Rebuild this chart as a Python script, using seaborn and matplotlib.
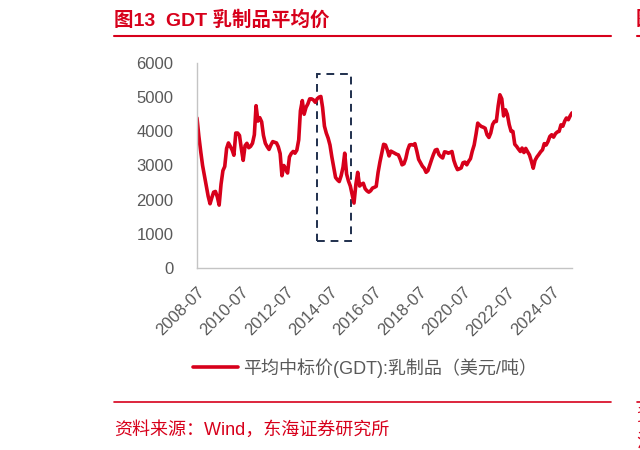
import pandas as pd
import seaborn as sns
import matplotlib.pyplot as plt
import matplotlib.dates as mdates
from matplotlib.patches import Rectangle

# GDT average winning price, dairy products (USD/t), monthly from 2008-07
start_month = '2008-07-01'
price = [
    4390, 3850, 3400, 3000, 2700, 2400, 2100, 1880, 2050, 2220, 2240, 2080,
    1840, 2450, 2850, 2970, 3500, 3660, 3560, 3450, 3300, 3950, 3950, 3880,
    3500, 3150, 3580, 3650, 3520, 3560, 3650, 3900, 4750, 4300, 4400, 4280,
    3880, 3650, 3550, 3470, 3600, 3700, 3680, 3660, 3550, 3350, 2700, 3000,
    2900, 2780, 3250, 3350, 3410, 3360, 3450, 3750, 4600, 4900, 4500, 4700,
    4800, 4950, 4950, 4920, 4850, 4950, 5000, 5020, 4700, 4150, 3950, 3800,
    3600, 3250, 2950, 2650, 2580, 2530, 2700, 2950, 3360, 2750, 2550, 2400,
    2150, 1900, 2450, 2800, 2400, 2450, 2480, 2320, 2260, 2220, 2260, 2340,
    2360, 2390, 2800, 3100, 3360, 3620, 3600, 3450, 3280, 3420, 3390, 3360,
    3330, 3310, 3180, 3020, 3050, 3200, 3450, 3600, 3610, 3600, 3640, 3420,
    3180, 3080, 2980, 2920, 2800, 2850, 3020, 3180, 3320, 3450, 3470, 3320,
    3260, 3220, 3400, 3390, 3360, 3380, 3410, 3150, 3000, 2880, 2900, 2930,
    3080, 3100, 3020, 3120, 3200, 3420, 3600, 3920, 4240, 4180, 4140, 4120,
    4090, 3900, 3820, 3950, 4200, 4290, 4290, 4750, 5070, 4950, 4450, 4630,
    4500, 4200, 4000, 4000, 3620, 3560, 3480, 3410, 3510, 3380, 3500, 3400,
    3310, 3130, 2920, 3150, 3250, 3320, 3400, 3460, 3640, 3600, 3700, 3850,
    3900, 3830, 3930, 3980, 4000, 4190, 4150, 4300, 4390, 4340, 4450, 4540,
]
tick_labels = ['2008-07', '2010-07', '2012-07', '2014-07', '2016-07',
               '2018-07', '2020-07', '2022-07', '2024-07']
y_ticks = [0, 1000, 2000, 3000, 4000, 5000, 6000]
# highlighted period (dashed box)
box_start, box_end = '2013-12-05', '2015-06-05'
box_low, box_high = 780, 5690

title = '图13  GDT 乳制品平均价'
series_name = '平均中标价(GDT):乳制品（美元/吨）'
source = '资料来源：Wind，东海证券研究所'

red = '#d7001b'
grey = '#595959'

df = pd.DataFrame({'date': pd.date_range(start_month, periods=len(price), freq='MS'),
                   'price': price})

sns.set_theme(style='white')
plt.rcParams['font.family'] = ['Liberation Sans', 'Noto Sans CJK SC', 'DejaVu Sans']

fig = plt.figure(figsize=(6.4, 4.5), dpi=100)
ax = fig.add_axes([197 / 640, 1 - 268 / 450, (572 - 197) / 640, (268 - 63) / 450])

sns.lineplot(data=df, x='date', y='price', ax=ax, color=red, linewidth=2.6,
             label=series_name, legend=False)

x0 = mdates.date2num(pd.Timestamp(box_start))
x1 = mdates.date2num(pd.Timestamp(box_end))
ax.add_patch(Rectangle((x0, box_low), x1 - x0, box_high - box_low, fill=False,
                       edgecolor='#1f2f4d', linewidth=1.4, linestyle=(0, (4, 3))))

ax.set_xlim(df['date'].iloc[0], df['date'].iloc[-1])
ax.set_ylim(0, 6000)
ax.set_yticks(y_ticks)
ax.set_xticks(pd.to_datetime(tick_labels))
ax.set_xticklabels(tick_labels, rotation=45, ha='right', rotation_mode='anchor')
ax.set_xlabel('')
ax.set_ylabel('')
ax.tick_params(axis='both', colors='#c4c4c4', labelcolor=grey, labelsize=12,
               length=5, width=1, direction='out')
ax.tick_params(axis='y', pad=12)
ax.tick_params(axis='x', pad=7)
for side in ['top', 'right']:
    ax.spines[side].set_visible(False)
for side in ['left', 'bottom']:
    ax.spines[side].set_color('#c4c4c4')
    ax.spines[side].set_linewidth(1)

handles, labels = ax.get_legend_handles_labels()
fig.legend(handles, labels, loc='center', bbox_to_anchor=(365 / 640, 1 - 368 / 450),
           frameon=False, fontsize=13, labelcolor=grey, handlelength=2.5,
           handletextpad=0.25)

# header and footer
fig.text(114 / 640, 1 - 20 / 450, title, color=red, fontsize=14, fontweight='bold',
         va='center', ha='left')
fig.add_artist(plt.Line2D([114 / 640, 611 / 640], [1 - 36 / 450] * 2, color=red, linewidth=1.5))
fig.add_artist(plt.Line2D([114 / 640, 611 / 640], [1 - 402 / 450] * 2, color=red, linewidth=1.2))
fig.text(114 / 640, 1 - 430 / 450, source, color=red, fontsize=13, va='center', ha='left')

# edge of neighbouring chart
fig.text(636 / 640, 1 - 20 / 450, '图', color=red, fontsize=14, fontweight='bold',
         va='center', ha='left')
fig.add_artist(plt.Line2D([637 / 640, 1], [1 - 36 / 450] * 2, color=red, linewidth=1.5))
fig.add_artist(plt.Line2D([637 / 640, 1], [1 - 402 / 450] * 2, color=red, linewidth=1.2))
fig.text(636 / 640, 1 - 416 / 450, '资', color=red, fontsize=13, va='center', ha='left')
fig.text(636 / 640, 1 - 442 / 450, '注', color=red, fontsize=13, va='center', ha='left')

fig.savefig('out.png', dpi=100)
